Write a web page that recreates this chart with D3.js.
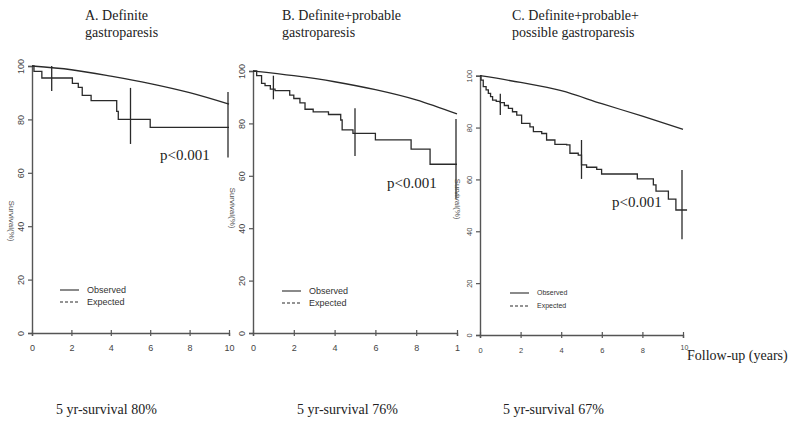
<!DOCTYPE html>
<html><head><meta charset="utf-8">
<script src="https://cdn.jsdelivr.net/npm/d3@7"></script>
<style>html,body{margin:0;padding:0;background:#fff;}svg{display:block;}</style>
</head><body>
<svg id="chart" width="800" height="425"></svg>
<script>
// ---------- data ----------
const panelTitles = [["A. Definite","gastroparesis"],["B. Definite+probable","gastroparesis"],["C. Definite+probable+","possible gastroparesis"]];
const survivalNotes = ["5 yr-survival 80%","5 yr-survival 76%","5 yr-survival 67%"];
const pLabels = ["p<0.001","p<0.001","p<0.001"];
const legendLabels = ["Observed","Expected"];
const yAxisLabel = "Survival(%)";
const xAxisLabel = "Follow-up (years)";
const yTicks = [0,20,40,60,80,100];
const xTicks = [0,2,4,6,8,10];
const xTickLabelsA = ["0","2","4","6","8","10"];
const xTickLabelsB = ["0","2","4","6","8","1"];
const xTickLabelsC = ["0","2","4","6","8","10"];

const obsTimeA = [0,0.1,0.5,2.05,2.35,2.55,3.0,4.3,4.38,6.0,10];
const obsSurvA = [100,98,95.5,93.5,92,89,87,83,80,77,77];
const expTimeA = [0,2,4,6,8,10];
const expSurvA = [100,98.6,96.2,93.4,90,85.7];
const ciTimeA = [1,5,10];
const ciLowA = [90.6,70.8,65.7];
const ciHighA = [100,91.8,90.3];

const obsTimeB = [0,0.18,0.42,0.59,0.85,1.08,1.8,2.0,2.3,2.55,2.95,3.7,4.3,4.37,4.9,6.0,7.75,8.68,10];
const obsSurvB = [100,98.2,95.3,94.4,93.1,92.5,90.8,89.5,87.8,85.4,84.4,83.4,81.3,77.5,76.2,73.7,70.2,64.4,64.4];
const expTimeB = [0,2,4,6,8,10];
const expSurvB = [100,98.2,95.9,92.9,89,83.6];
const ciTimeB = [1,5,10];
const ciLowB = [89.2,67.6,51.4];
const ciHighB = [98.2,85.8,81.7];

const obsTimeC = [0,0.05,0.16,0.3,0.41,0.52,0.62,0.8,0.99,1.2,1.4,1.6,1.81,2.05,2.46,2.63,3.04,3.28,3.69,4.27,4.43,4.84,5.0,5.25,5.75,5.99,7.75,8.54,8.67,9.28,9.65,10.2];
const obsSurvC = [100,98.3,95.8,94.5,93.2,91.9,90.6,90.1,89.6,88.5,87.4,86.1,84.8,81.6,80.3,78.4,77.7,75.2,73.5,73.3,70.1,69.4,65.6,64.7,63.9,62.1,60.2,57.9,55.5,52.4,48.2,48.2];
const expTimeC = [0,2,4,6,8,10];
const expSurvC = [100,97.4,94.2,89.2,84.4,79.3];
const ciTimeC = [1,5,10];
const ciLowC = [84.8,60.2,36.9];
const ciHighC = [93.0,75.2,63.6];

// ---------- layout ----------
const panels = [
  {x0:32, x1:229, yTop:66, yBot:333, ylab:[12,221], title:[85,20,37], note:[56,414], p:[160,160], leg:[60,290,12,9], ticks:xTickLabelsA, tfs:9,
   obsT:obsTimeA, obsS:obsSurvA, expT:expTimeA, expS:expSurvA, ciT:ciTimeA, ciL:ciLowA, ciH:ciHighA},
  {x0:253, x1:457, yTop:71, yBot:333, ylab:[233,208], title:[282,20,37], note:[297,414], p:[387,188], leg:[282,291,12,9], ticks:xTickLabelsB, tfs:9,
   obsT:obsTimeB, obsS:obsSurvB, expT:expTimeB, expS:expSurvB, ciT:ciTimeB, ciL:ciLowB, ciH:ciHighB},
  {x0:480, x1:683, yTop:75.7, yBot:335, ylab:[458,199], title:[512,20,37], note:[503,414], p:[612,207], leg:[510,293,13,7], ticks:xTickLabelsC, tfs:7.5,
   obsT:obsTimeC, obsS:obsSurvC, expT:expTimeC, expS:expSurvC, ciT:ciTimeC, ciL:ciLowC, ciH:ciHighC}
];

const svg = d3.select("#chart");
const lineCol = "#2a2a2a", axisCol = "#555";
const serif = "'Liberation Serif','Times New Roman',serif";
const sans = "'Liberation Sans',Arial,sans-serif";

panels.forEach((P, i) => {
  const x = d3.scaleLinear().domain([0,10]).range([P.x0, P.x1]);
  const y = d3.scaleLinear().domain([0,100]).range([P.yBot, P.yTop]);
  const g = svg.append("g");

  // titles
  const tt = g.append("text").attr("font-family", serif).attr("font-size", 14).attr("fill", "#222");
  tt.append("tspan").attr("x", P.title[0]).attr("y", P.title[1]).text(panelTitles[i][0]);
  tt.append("tspan").attr("x", P.title[0]).attr("y", P.title[2]).text(panelTitles[i][1]);

  // y axis
  const yAx = g.append("g").attr("transform", `translate(${P.x0},0)`)
    .call(d3.axisLeft(y).tickValues(yTicks).tickSize(4).tickFormat(d3.format("d")));
  yAx.select(".domain").attr("stroke", axisCol).attr("stroke-width", 1.4);
  yAx.selectAll(".tick line").attr("stroke", axisCol).attr("stroke-width", 1.2);
  yAx.selectAll(".tick text").attr("font-family", sans).attr("font-size", P.tfs).attr("fill", "#444")
    .attr("text-anchor", "middle").attr("dy", "0.35em")
    .attr("transform", "translate(-11,0) rotate(-90)").attr("x", 0).attr("y", 0);

  // x axis
  const xAx = g.append("g").attr("transform", `translate(0,${P.yBot})`)
    .call(d3.axisBottom(x).tickValues(xTicks).tickSize(3).tickFormat((d,k) => P.ticks[k]));
  xAx.select(".domain").attr("stroke", axisCol).attr("stroke-width", 1.4);
  xAx.selectAll(".tick line").attr("stroke", axisCol).attr("stroke-width", 1.2).attr("y1", -3).attr("y2", 3);
  xAx.selectAll(".tick text").attr("font-family", sans).attr("font-size", P.tfs).attr("fill", "#444").attr("dy", 0).attr("y", 18);
  if (i === 2) {
    xAx.selectAll(".tick text").filter(d => d === 10).attr("y", 15).attr("font-size", 7).attr("text-anchor", "start").attr("dx", -3);
  }

  // y label
  g.append("text").attr("transform", `translate(${P.ylab[0]},${P.ylab[1]}) rotate(90)`)
    .attr("text-anchor", "middle").attr("dy", "0.35em").attr("font-family", sans).attr("font-size", 8).attr("fill", "#555")
    .text(yAxisLabel);

  // expected curve
  const expData = P.expT.map((t,k) => [t, P.expS[k]]);
  g.append("path").datum(expData).attr("fill", "none").attr("stroke", lineCol).attr("stroke-width", 1.3)
    .attr("d", d3.line().x(d => x(d[0])).y(d => y(d[1])).curve(d3.curveMonotoneX));

  // observed step curve
  const obsData = P.obsT.map((t,k) => [t, P.obsS[k]]);
  g.append("path").datum(obsData).attr("fill", "none").attr("stroke", lineCol).attr("stroke-width", 1.3)
    .attr("d", d3.line().x(d => x(d[0])).y(d => y(d[1])).curve(d3.curveStepAfter));

  // CI bars
  g.selectAll(".ci").data(P.ciT.map((t,k) => ({t, lo:P.ciL[k], hi:P.ciH[k]}))).enter().append("line")
    .attr("x1", d => x(d.t) - (d.t===10?1:0)).attr("x2", d => x(d.t) - (d.t===10?1:0))
    .attr("y1", d => y(d.lo)).attr("y2", d => y(d.hi))
    .attr("stroke", lineCol).attr("stroke-width", 1.3);

  // p label
  g.append("text").attr("x", P.p[0]).attr("y", P.p[1]).attr("font-family", serif).attr("font-size", 15).attr("fill", "#222").text(pLabels[i]);

  // legend
  const [lx, ly, gap, fs] = P.leg;
  legendLabels.forEach((lab, k) => {
    const yy = ly + k*gap;
    g.append("line").attr("x1", lx).attr("x2", lx+19).attr("y1", yy).attr("y2", yy)
      .attr("stroke", lineCol).attr("stroke-width", 1.1).attr("stroke-dasharray", k===1 ? "3,2" : null);
    g.append("text").attr("x", lx+27).attr("y", yy).attr("dy", "0.35em")
      .attr("font-family", sans).attr("font-size", fs).attr("fill", "#333").text(lab);
  });

  // 5-year note
  g.append("text").attr("x", P.note[0]).attr("y", P.note[1]).attr("font-family", serif).attr("font-size", 14).attr("fill", "#222").text(survivalNotes[i]);
});

svg.append("text").attr("x", 687).attr("y", 360).attr("font-family", serif).attr("font-size", 14).attr("fill", "#222").text(xAxisLabel);
</script>
</body></html>
